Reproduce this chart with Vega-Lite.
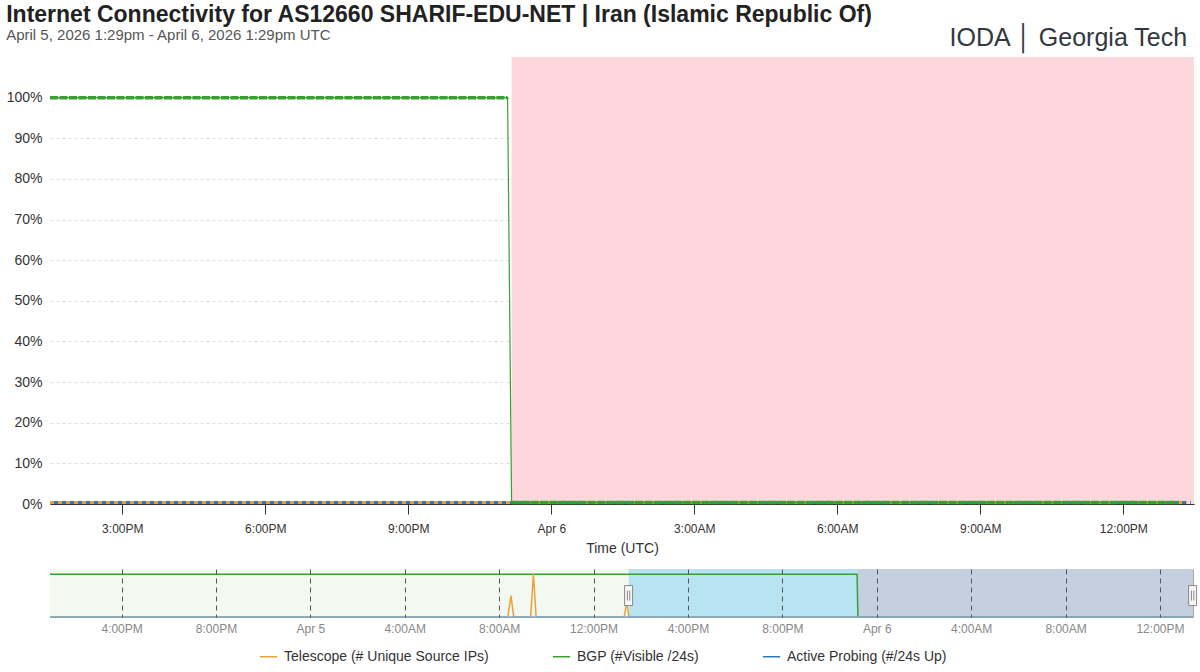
{
  "$schema": "https://vega.github.io/schema/vega-lite/v6.json",
  "padding": {"left": 6, "right": 6, "top": 4, "bottom": 6},
  "background": "white",
  "title": {"text": "IODA │ Georgia Tech", "anchor": "end", "frame": "bounds", "offset": -47, "dx": -12, "fontSize": 25, "fontWeight": "normal", "color": "#33383f", "font": "Liberation Sans"},
  "datasets": {
    "main": [
      {"series": "Telescope (# Unique Source IPs)", "run": "a", "t": "2026-04-05T13:29:00Z", "v": 0.4},
      {"series": "Telescope (# Unique Source IPs)", "run": "a", "t": "2026-04-05T23:10:00Z", "v": 0.4},
      {"series": "Telescope (# Unique Source IPs)", "run": "a", "t": "2026-04-06T13:20:00Z", "v": 0.4},
      {"series": "Active Probing (#/24s Up)", "run": "a", "t": "2026-04-05T13:29:00Z", "v": 0.4},
      {"series": "Active Probing (#/24s Up)", "run": "a", "t": "2026-04-05T23:10:00Z", "v": 0.4},
      {"series": "Active Probing (#/24s Up)", "run": "a", "t": "2026-04-06T13:25:00Z", "v": 0.4},
      {"series": "BGP (#Visible /24s)", "run": "up", "t": "2026-04-05T13:29:00Z", "v": 100},
      {"series": "BGP (#Visible /24s)", "run": "up", "t": "2026-04-05T23:05:00Z", "v": 100},
      {"series": "BGP (#Visible /24s)", "run": "down", "t": "2026-04-05T23:10:00Z", "v": 0.4},
      {"series": "BGP (#Visible /24s)", "run": "down", "t": "2026-04-06T13:10:00Z", "v": 0.4}
    ],
    "outage": [{"start": "2026-04-05T23:10:00Z", "end": "2026-04-06T13:29:00Z"}],
    "nav": [
      {"series": "BGP", "t": "2026-04-04T12:58:00Z", "v": 100},
      {"series": "BGP", "t": "2026-04-05T23:10:00Z", "v": 100},
      {"series": "BGP", "t": "2026-04-05T23:12:00Z", "v": 0},
      {"series": "BGP", "t": "2026-04-06T13:24:00Z", "v": 0},
      {"series": "Telescope", "t": "2026-04-04T12:58:00Z", "v": 0},
      {"series": "Telescope", "t": "2026-04-05T08:22:00Z", "v": 0},
      {"series": "Telescope", "t": "2026-04-05T08:30:00Z", "v": 50},
      {"series": "Telescope", "t": "2026-04-05T08:37:00Z", "v": 0},
      {"series": "Telescope", "t": "2026-04-05T09:20:00Z", "v": 0},
      {"series": "Telescope", "t": "2026-04-05T09:27:00Z", "v": 100},
      {"series": "Telescope", "t": "2026-04-05T09:34:00Z", "v": 0},
      {"series": "Telescope", "t": "2026-04-05T13:18:00Z", "v": 0},
      {"series": "Telescope", "t": "2026-04-05T13:24:00Z", "v": 35},
      {"series": "Telescope", "t": "2026-04-05T13:30:00Z", "v": 0},
      {"series": "Telescope", "t": "2026-04-06T13:24:00Z", "v": 0},
      {"series": "Active", "t": "2026-04-04T12:58:00Z", "v": 0},
      {"series": "Active", "t": "2026-04-06T13:24:00Z", "v": 0}
    ],
    "bands": [
      {"band": "before", "start": "2026-04-04T12:58:00Z", "end": "2026-04-05T13:29:00Z"},
      {"band": "selected", "start": "2026-04-05T13:29:00Z", "end": "2026-04-05T23:11:00Z"},
      {"band": "outage", "start": "2026-04-05T23:11:00Z", "end": "2026-04-06T13:24:00Z"}
    ],
    "handles": [
      {"t": "2026-04-05T13:29:00Z"},
      {"t": "2026-04-06T13:23:00Z"}
    ]
  },
  "spacing": 13,
  "vconcat": [
    {
      "width": 1144,
      "height": 447,
      "title": {
        "text": "Internet Connectivity for AS12660 SHARIF-EDU-NET | Iran (Islamic Republic Of)",
        "subtitle": "April 5, 2026 1:29pm - April 6, 2026 1:29pm UTC",
        "anchor": "start",
        "frame": "bounds",
        "fontSize": 23,
        "fontWeight": "bold",
        "color": "#222222",
        "subtitleFontSize": 15,
        "subtitleColor": "#555555",
        "subtitlePadding": 1,
        "offset": 14,
        "font": "Liberation Sans",
        "subtitleFont": "Liberation Sans"
      },
      "layer": [
        {
          "data": {"name": "outage"},
          "mark": {"type": "rect", "color": "#fdd7dc"},
          "encoding": {
            "x": {
              "field": "start", "type": "temporal",
              "scale": {"type": "utc", "domain": ["2026-04-05T13:29:00Z", "2026-04-06T13:29:00Z"]},
              "axis": {
                "title": "Time (UTC)", "titleFontSize": 14, "titleFontWeight": "normal", "titleColor": "#333333", "titlePadding": 7,
                "labelFontSize": 12, "labelColor": "#333333", "tickColor": "#333333", "domainColor": "#333333",
                "tickSize": 10, "labelPadding": 9, "grid": false, "labelFlush": false,
                "values": [1775401200000, 1775412000000, 1775422800000, 1775433600000, 1775444400000, 1775455200000, 1775466000000, 1775476800000],
                "labelExpr": "utchours(datum.value) == 0 ? utcFormat(datum.value, '%b %-d') : utcFormat(datum.value, '%-I:%M%p')"
              }
            },
            "x2": {"field": "end"}
          }
        },
        {
          "data": {"name": "main"},
          "transform": [{"filter": "datum.series == 'Telescope (# Unique Source IPs)'"}],
          "mark": {"type": "line", "strokeWidth": 3, "strokeDash": [4, 4]},
          "encoding": {
            "x": {"field": "t", "type": "temporal"},
            "y": {
              "field": "v", "type": "quantitative",
              "scale": {"domain": [0, 110], "nice": false},
              "axis": {"title": null, "values": [0, 10, 20, 30, 40, 50, 60, 70, 80, 90, 100], "labelExpr": "datum.value + '%'", "grid": true, "gridDash": [3, 3], "gridColor": "#dddddd", "domain": false, "ticks": false, "labelFontSize": 14, "labelColor": "#333333", "labelPadding": 8}
            },
            "color": {
              "field": "series", "type": "nominal",
              "scale": {"domain": ["Telescope (# Unique Source IPs)", "BGP (#Visible /24s)", "Active Probing (#/24s Up)"], "range": ["#EDA03A", "#38A030", "#2F78B8"]},
              "legend": {"title": null, "orient": "bottom", "direction": "horizontal", "symbolType": "stroke", "symbolSize": 300, "symbolStrokeWidth": 1.5, "symbolDash": [1, 0], "labelFontSize": 14, "labelColor": "#333333", "labelLimit": 400, "columnPadding": 60, "labelOffset": 6, "offset": 12}
            }
          }
        },
        {
          "data": {"name": "main"},
          "transform": [{"filter": "datum.series == 'Active Probing (#/24s Up)'"}],
          "mark": {"type": "line", "strokeWidth": 3, "strokeDash": [4, 4], "strokeDashOffset": 4},
          "encoding": {
            "x": {"field": "t", "type": "temporal"},
            "y": {"field": "v", "type": "quantitative"},
            "color": {"field": "series", "type": "nominal"}
          }
        },
        {
          "data": {"name": "main"},
          "transform": [{"filter": "datum.series == 'BGP (#Visible /24s)'"}],
          "mark": {"type": "line", "strokeWidth": 1.2},
          "encoding": {
            "x": {"field": "t", "type": "temporal"},
            "y": {"field": "v", "type": "quantitative"},
            "color": {"field": "series", "type": "nominal"}
          }
        },
        {
          "data": {"name": "main"},
          "transform": [{"filter": "datum.series == 'BGP (#Visible /24s)'"}],
          "mark": {"type": "line", "strokeWidth": 3.5, "strokeDash": [8, 1.5]},
          "encoding": {
            "x": {"field": "t", "type": "temporal"},
            "y": {"field": "v", "type": "quantitative"},
            "detail": {"field": "run", "type": "nominal"},
            "color": {"field": "series", "type": "nominal"}
          }
        }
      ]
    },
    {
      "width": 1143,
      "height": 48,
      "view": {"stroke": "#aaaaaa"},
      "layer": [
        {
          "data": {"name": "bands"},
          "mark": {"type": "rect"},
          "encoding": {
            "x": {
              "field": "start", "type": "temporal",
              "scale": {"type": "utc", "domain": ["2026-04-04T12:58:00Z", "2026-04-06T13:24:00Z"]},
              "axis": {
                "title": null, "grid": true, "gridDash": [5, 4], "gridColor": "#555555", "gridWidth": 1,
                "ticks": false, "domain": false, "labelFontSize": 12, "labelColor": "#888888", "labelPadding": 6,
                "zindex": 1, "labelFlush": false,
                "values": [1775318400000, 1775332800000, 1775347200000, 1775361600000, 1775376000000, 1775390400000, 1775404800000, 1775419200000, 1775433600000, 1775448000000, 1775462400000, 1775476800000],
                "labelExpr": "utchours(datum.value) == 0 ? utcFormat(datum.value, '%b %-d') : utcFormat(datum.value, '%-I:%M%p')"
              }
            },
            "x2": {"field": "end"},
            "fill": {"field": "band", "type": "nominal", "scale": {"domain": ["before", "selected", "outage"], "range": ["#f3f8f1", "#b8e3f0", "#c4cfdf"]}, "legend": null}
          }
        },
        {
          "data": {"name": "nav"},
          "transform": [{"filter": "datum.series == 'BGP'"}],
          "mark": {"type": "line", "strokeWidth": 1.5, "color": "#38A030"},
          "encoding": {
            "x": {"field": "t", "type": "temporal"},
            "y": {"field": "v", "type": "quantitative", "scale": {"domain": [0, 112], "nice": false}, "axis": null}
          }
        },
        {
          "data": {"name": "nav"},
          "transform": [{"filter": "datum.series == 'Telescope'"}],
          "mark": {"type": "line", "strokeWidth": 1.5, "color": "#EDA03A"},
          "encoding": {
            "x": {"field": "t", "type": "temporal"},
            "y": {"field": "v", "type": "quantitative"}
          }
        },
        {
          "data": {"name": "nav"},
          "transform": [{"filter": "datum.series == 'Active'"}],
          "mark": {"type": "line", "strokeWidth": 1.5, "color": "#72a9d9"},
          "encoding": {
            "x": {"field": "t", "type": "temporal"},
            "y": {"field": "v", "type": "quantitative"}
          }
        },
        {
          "data": {"name": "handles"},
          "mark": {"type": "point", "shape": "M-0.4,-1H0.4V1H-0.4ZM-0.12,-0.5V0.5M0.12,-0.5V0.5", "size": 400, "filled": true, "fill": "#f7f7f7", "stroke": "#888888", "strokeWidth": 1, "opacity": 1},
          "encoding": {
            "x": {"field": "t", "type": "temporal"},
            "y": {"datum": 50}
          }
        }
      ]
    }
  ],
  "config": {
    "font": "Liberation Sans",
    "view": {"stroke": null},
    "legend": {"layout": {"bottom": {"anchor": "middle"}}}
  }
}
